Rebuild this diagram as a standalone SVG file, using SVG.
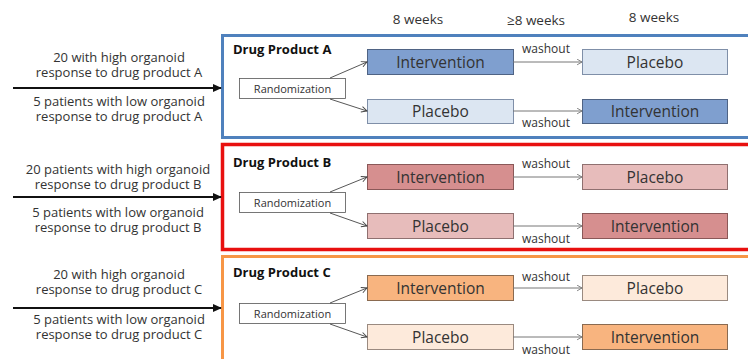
<svg xmlns="http://www.w3.org/2000/svg" width="748" height="359" viewBox="0 0 748 359">
<defs>
<style>
text{font-family:"Open Sans","Liberation Sans",sans-serif;fill:#333;}
.lt{font-size:13px;text-anchor:middle;}
.hd{font-size:13.5px;text-anchor:middle;}
.tt{font-size:13px;font-weight:bold;fill:#111;}
.rz{font-size:11px;text-anchor:middle;}
.bx{font-size:15.5px;text-anchor:middle;}
.wo{font-size:12px;text-anchor:middle;}
.rbox{fill:#fff;stroke:#555;stroke-width:0.8;}
.aD{fill:#7f9fcf;stroke:#4f6384;stroke-width:1;}
.aL{fill:#dce6f2;stroke:#7f8fa8;stroke-width:1;}
.bD{fill:#d68f8f;stroke:#8a5858;stroke-width:1;}
.bL{fill:#e7bcbb;stroke:#8f7070;stroke-width:1;}
.cD{fill:#f8b47f;stroke:#8a6a50;stroke-width:1;}
.cL{fill:#fdeadb;stroke:#9a8a80;stroke-width:1;}
.ra{stroke:#444;stroke-width:0.9;fill:none;marker-end:url(#oa);}
.wa{stroke:#777;stroke-width:1;fill:none;marker-end:url(#ow);}
.ba{stroke:#111;stroke-width:2.2;fill:none;marker-end:url(#fa);}
</style>
<marker id="oa" viewBox="0 0 10 10" refX="9" refY="5" markerWidth="7" markerHeight="7" markerUnits="userSpaceOnUse" orient="auto"><path d="M1,1 L9,5 L1,9" fill="none" stroke="#444" stroke-width="1.3"/></marker>
<marker id="ow" viewBox="0 0 10 10" refX="9" refY="5" markerWidth="7" markerHeight="7" markerUnits="userSpaceOnUse" orient="auto"><path d="M2,1 L9,5 L2,9" fill="none" stroke="#777" stroke-width="1.3"/></marker>
<marker id="fa" viewBox="0 0 10 10" refX="9" refY="5" markerWidth="9" markerHeight="9" markerUnits="userSpaceOnUse" orient="auto"><path d="M0,0.5 L10,5 L0,9.5 Z" fill="#111"/></marker>
</defs>
<rect width="748" height="359" fill="#fff"/>

<g id="header">
<text class="hd" x="418" y="24">8 weeks</text>
<text class="hd" x="536" y="25">≥8 weeks</text>
<text class="hd" x="654" y="22">8 weeks</text>
</g>

<g id="panelA">
<rect x="222.5" y="35.5" width="540" height="102" fill="#fff" stroke="#4f81bd" stroke-width="3"/>
<text class="tt" x="233" y="54">Drug Product A</text>
</g>
<g id="panelB">
<rect x="222.5" y="144.5" width="540" height="105" fill="#fff" stroke="#e8100f" stroke-width="3.5"/>
<text class="tt" x="233" y="167">Drug Product B</text>
</g>
<g id="panelC">
<rect x="222.5" y="256.5" width="540" height="120" fill="#fff" stroke="#f79646" stroke-width="3"/>
<text class="tt" x="233" y="277">Drug Product C</text>
</g>

<g id="inputs">
<text class="lt" x="119" y="62">20 with high organoid</text>
<text class="lt" x="119" y="77">response to drug product A</text>
<text class="lt" x="119" y="106">5 patients with low organoid</text>
<text class="lt" x="119" y="121">response to drug product A</text>
<text class="lt" x="118" y="174">20 patients with high organoid</text>
<text class="lt" x="118" y="189">response to drug product B</text>
<text class="lt" x="118" y="217">5 patients with low organoid</text>
<text class="lt" x="118" y="232">response to drug product B</text>
<text class="lt" x="119" y="279">20 with high organoid</text>
<text class="lt" x="119" y="294">response to drug product C</text>
<text class="lt" x="119" y="324">5 patients with low organoid</text>
<text class="lt" x="119" y="339">response to drug product C</text>
</g>

<g id="randA"><rect class="rbox" x="239.5" y="78.5" width="106" height="20"/><text class="rz" x="292.5" y="92.5">Randomization</text></g>
<g id="randB"><rect class="rbox" x="239.5" y="192.5" width="106" height="20"/><text class="rz" x="292.5" y="206.5">Randomization</text></g>
<g id="randC"><rect class="rbox" x="239.5" y="303.5" width="106" height="20"/><text class="rz" x="292.5" y="317.5">Randomization</text></g>

<g id="A1"><rect class="aD" x="367.5" y="49.5" width="146" height="25"/><text class="bx" x="440.5" y="67.5">Intervention</text></g>
<g id="A2"><rect class="aL" x="582.5" y="49.5" width="145" height="25"/><text class="bx" x="655" y="67.5">Placebo</text></g>
<g id="A3"><rect class="aL" x="367.5" y="99.5" width="146" height="24"/><text class="bx" x="440.5" y="117">Placebo</text></g>
<g id="A4"><rect class="aD" x="582.5" y="99.5" width="145" height="24"/><text class="bx" x="655" y="117">Intervention</text></g>

<g id="B1"><rect class="bD" x="367.5" y="164.5" width="146" height="25"/><text class="bx" x="440.5" y="182.5">Intervention</text></g>
<g id="B2"><rect class="bL" x="582.5" y="164.5" width="145" height="25"/><text class="bx" x="655" y="182.5">Placebo</text></g>
<g id="B3"><rect class="bL" x="367.5" y="213.5" width="146" height="25"/><text class="bx" x="440.5" y="231.5">Placebo</text></g>
<g id="B4"><rect class="bD" x="582.5" y="213.5" width="145" height="25"/><text class="bx" x="655" y="231.5">Intervention</text></g>

<g id="C1"><rect class="cD" x="367.5" y="275.5" width="146" height="25"/><text class="bx" x="440.5" y="293.5">Intervention</text></g>
<g id="C2"><rect class="cL" x="582.5" y="275.5" width="145" height="25"/><text class="bx" x="655" y="293.5">Placebo</text></g>
<g id="C3"><rect class="cL" x="367.5" y="324.5" width="146" height="25"/><text class="bx" x="440.5" y="342.5">Placebo</text></g>
<g id="C4"><rect class="cD" x="582.5" y="324.5" width="145" height="25"/><text class="bx" x="655" y="342.5">Intervention</text></g>

<g id="washoutLabels">
<text class="wo" x="546" y="53">washout</text>
<text class="wo" x="546" y="127">washout</text>
<text class="wo" x="546" y="168">washout</text>
<text class="wo" x="546" y="243">washout</text>
<text class="wo" x="546" y="281">washout</text>
<text class="wo" x="546" y="354">washout</text>
</g>

<g id="connectors">
<line class="ba" x1="13" y1="88" x2="221" y2="88"/>
<line class="ba" x1="13" y1="197" x2="221" y2="197"/>
<line class="ba" x1="13" y1="308" x2="221" y2="308"/>
<line class="ra" x1="330" y1="78" x2="367" y2="62"/>
<line class="ra" x1="330" y1="99" x2="367" y2="111"/>
<line class="ra" x1="330" y1="192" x2="367" y2="177"/>
<line class="ra" x1="330" y1="213" x2="367" y2="226"/>
<line class="ra" x1="330" y1="303" x2="367" y2="288"/>
<line class="ra" x1="330" y1="324" x2="367" y2="337"/>
<line class="wa" x1="513" y1="62" x2="582" y2="62"/>
<line class="wa" x1="513" y1="111" x2="582" y2="111"/>
<line class="wa" x1="513" y1="177" x2="582" y2="177"/>
<line class="wa" x1="513" y1="226" x2="582" y2="226"/>
<line class="wa" x1="513" y1="288" x2="582" y2="288"/>
<line class="wa" x1="513" y1="337" x2="582" y2="337"/>
</g>
</svg>
